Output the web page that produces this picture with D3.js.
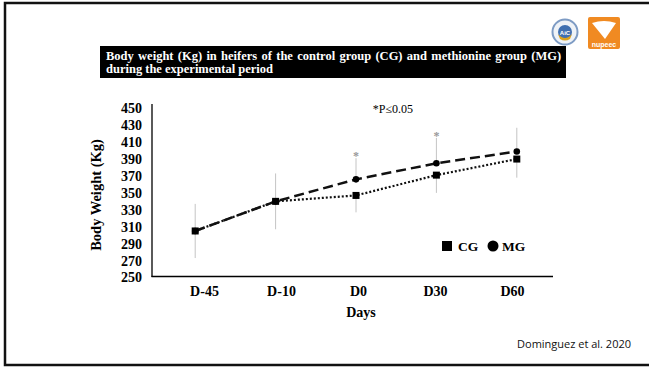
<!DOCTYPE html>
<html>
<head>
<meta charset="utf-8">
<script src="https://cdn.jsdelivr.net/npm/d3@7"></script>
<style>
  body { margin: 0; background: #fff; }
  svg { display: block; }
</style>
</head>
<body>
<script>
//chart data
var days = ["D-45", "D-10", "D0", "D30", "D60"];
var cgValues = [305, 340, 347, 371, 390];   //control group (squares, dotted)
var mgValues = [305, 340, 366, 385, 399];   //methionine group (circles, dashed)
var cgErrors = [32, 33, 20, 21, 22];
var mgErrors = [32, 33, 25, 30, 28];
var sigDays = ["D0", "D30"];                //days marked with *
var yTicks = [250, 270, 290, 310, 330, 350, 370, 390, 410, 430, 450];

var width = 649,
    height = 367;

var svg = d3.select("body")
    .append("svg")
    .attr("width", width)
    .attr("height", height);

//slide frame
svg.append("rect")
    .attr("x", 5).attr("y", 3)
    .attr("width", 700).attr("height", 362)
    .attr("fill", "none")
    .attr("stroke", "#111")
    .attr("stroke-width", 2.5);

//logos (rough shapes)
var logo1 = svg.append("g").attr("transform", "translate(565,32)");
logo1.append("circle").attr("r", 12.5).attr("fill", "#eef2f7").attr("stroke", "#7d9bc4").attr("stroke-width", 2);
logo1.append("circle").attr("r", 7).attr("fill", "#3f6fb0");
logo1.append("path").attr("d", "M-7,2 Q0,10 7,2 L5,7 Q0,10 -5,7 Z").attr("fill", "#d9a21f");
logo1.append("text").attr("y", 2.5).attr("text-anchor", "middle")
    .style("font", "bold 6px 'Liberation Sans'").attr("fill", "#fff").text("AiC");

var logo2 = svg.append("g").attr("transform", "translate(588,17)");
logo2.append("rect").attr("width", 32).attr("height", 32).attr("rx", 2).attr("fill", "#f08a22");
logo2.append("path").attr("d", "M4,6 Q16,2 28,6 L17,22 Z").attr("fill", "#fff");
logo2.append("text").attr("x", 16).attr("y", 30).attr("text-anchor", "middle")
    .style("font", "bold 7px 'Liberation Sans'").attr("fill", "#fff").text("nupeec");

//title box
svg.append("rect")
    .attr("x", 100).attr("y", 46)
    .attr("width", 466).attr("height", 32)
    .attr("fill", "#000");

var titleGroup = svg.append("g");

var titleLine1 = titleGroup.append("text")
    .attr("x", 0).attr("y", 0)
    .attr("fill", "#fff")
    .style("font", "bold 12.5px 'Liberation Serif'")
    .text("Body weight (Kg) in heifers of the control group (CG) and methionine group (MG)");

titleGroup.append("text")
    .attr("x", 0).attr("y", 13.5)
    .attr("fill", "#fff")
    .style("font", "bold 12.5px 'Liberation Serif'")
    .text("during the experimental period");

//condense the title so the first line fills the box (narrow font look)
var natural = titleLine1.node().getComputedTextLength();
var squeeze = Math.min(1, 454 / natural);
if (squeeze == 1) {
    titleLine1.style("word-spacing", ((454 - natural) / 12) + "px");
}
titleGroup.attr("transform", "translate(106,59.5) scale(" + squeeze + ",1)");

//scales
var x = d3.scalePoint()
    .domain(days)
    .range([155, 557])
    .padding(0.5);

var labelX = d3.scalePoint()
    .domain(days)
    .range([204, 512]);

var y = d3.scaleLinear()
    .domain([250, 450])
    .range([277.5, 108.3]);

//axes lines
svg.append("line")
    .attr("x1", 152).attr("x2", 152)
    .attr("y1", 104).attr("y2", 277)
    .attr("stroke", "#000").attr("stroke-width", 1.3);
svg.append("line")
    .attr("x1", 151.5).attr("x2", 553)
    .attr("y1", 276.5).attr("y2", 276.5)
    .attr("stroke", "#000").attr("stroke-width", 1.3);

//y axis labels
var yAxis = d3.axisLeft(y)
    .tickValues(yTicks)
    .tickSize(0)
    .tickPadding(10);

svg.append("g")
    .attr("transform", "translate(152,0)")
    .call(yAxis)
    .call(function(g) { g.select(".domain").remove(); })
    .selectAll("text")
    .style("font", "bold 14px 'Liberation Serif'")
    .attr("fill", "#000");

//x axis labels
var xAxis = d3.axisBottom(labelX)
    .tickSize(0)
    .tickPadding(0);

svg.append("g")
    .attr("transform", "translate(0,286)")
    .call(xAxis)
    .call(function(g) { g.select(".domain").remove(); })
    .selectAll("text")
    .style("font", "bold 14px 'Liberation Serif'")
    .attr("fill", "#000");

//axis titles
svg.append("text")
    .attr("transform", "translate(101,195) rotate(-90)")
    .attr("text-anchor", "middle")
    .style("font", "bold 14.5px 'Liberation Serif'")
    .text("Body Weight (Kg)");

svg.append("text")
    .attr("x", 361).attr("y", 317)
    .attr("text-anchor", "middle")
    .style("font", "bold 14px 'Liberation Serif'")
    .text("Days");

svg.append("text")
    .attr("x", 393).attr("y", 113)
    .attr("text-anchor", "middle")
    .style("font", "12px 'Liberation Serif'")
    .text("*P\u22640.05");

//error bars
function errorBars(values, errors, up) {
    svg.selectAll(null)
        .data(days)
        .enter()
        .append("line")
        .attr("x1", function(d) { return x(d); })
        .attr("x2", function(d) { return x(d); })
        .attr("y1", function(d, i) { return y(values[i]); })
        .attr("y2", function(d, i) { return up ? y(values[i] + errors[i]) : y(values[i] - errors[i]); })
        .attr("stroke", "#c4c4c4")
        .attr("stroke-width", 1);
}
errorBars(mgValues, mgErrors, true);
errorBars(cgValues, cgErrors, false);

//significance stars
svg.selectAll(".star")
    .data(sigDays)
    .enter()
    .append("text")
    .attr("class", "star")
    .attr("x", function(d) { return x(d); })
    .attr("y", function(d) {
        var i = days.indexOf(d);
        return y(mgValues[i] + mgErrors[i]) + 2;
    })
    .attr("text-anchor", "middle")
    .attr("fill", "#999")
    .style("font", "bold 12px 'Liberation Serif'")
    .text("*");

//lines
var line = function(values) {
    return d3.line()
        .x(function(d) { return x(d); })
        .y(function(d, i) { return y(values[i]); })(days);
};

svg.append("path")
    .attr("d", line(cgValues))
    .attr("fill", "none")
    .attr("stroke", "#111")
    .attr("stroke-width", 2.2)
    .attr("stroke-dasharray", "2,2");

svg.append("path")
    .attr("d", line(mgValues))
    .attr("fill", "none")
    .attr("stroke", "#111")
    .attr("stroke-width", 2.5)
    .attr("stroke-dasharray", "10,5");

//markers
svg.selectAll(".cg")
    .data(days)
    .enter()
    .append("rect")
    .attr("class", "cg")
    .attr("x", function(d) { return x(d) - 3.5; })
    .attr("y", function(d, i) { return y(cgValues[i]) - 3.5; })
    .attr("width", 7).attr("height", 7)
    .attr("fill", "#000");

svg.selectAll(".mg")
    .data(days)
    .enter()
    .append("circle")
    .attr("class", "mg")
    .attr("cx", function(d) { return x(d); })
    .attr("cy", function(d, i) { return y(mgValues[i]); })
    .attr("r", 3.3)
    .attr("fill", "#000");

//legend
svg.append("rect")
    .attr("x", 442).attr("y", 241)
    .attr("width", 10).attr("height", 10)
    .attr("fill", "#000");
svg.append("text")
    .attr("x", 458).attr("y", 250.5)
    .style("font", "bold 13.5px 'Liberation Serif'")
    .text("CG");
svg.append("circle")
    .attr("cx", 493).attr("cy", 246)
    .attr("r", 5.5)
    .attr("fill", "#000");
svg.append("text")
    .attr("x", 502).attr("y", 250.5)
    .style("font", "bold 13.5px 'Liberation Serif'")
    .text("MG");

//source
svg.append("text")
    .attr("x", 631).attr("y", 348)
    .attr("text-anchor", "end")
    .style("font", "11px 'Open Sans'")
    .attr("fill", "#111")
    .text("Dominguez et al. 2020");
</script>
</body>
</html>
